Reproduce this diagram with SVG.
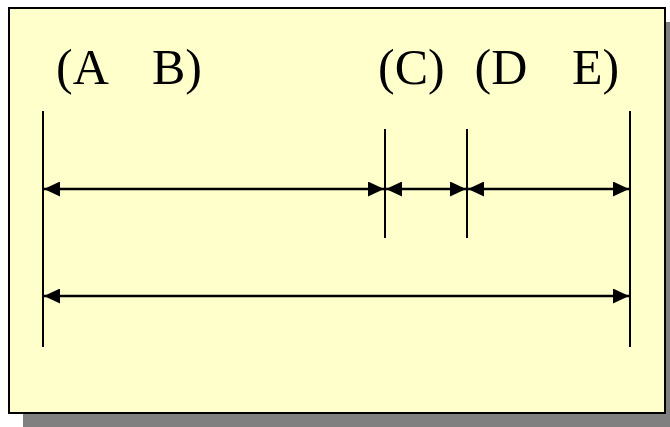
<svg xmlns="http://www.w3.org/2000/svg" width="670" height="427" viewBox="0 0 670 427">
<style>
.lbl{font-family:"Liberation Serif","Times New Roman",serif;font-size:50px;fill:#000}
.tick{stroke:#000;stroke-width:2}
.dim{stroke:#000;stroke-width:2.5;fill:none;marker-start:url(#ah);marker-end:url(#ah)}
</style>
<defs>
<marker id="ah" viewBox="0 0 16 15" refX="16" refY="7.5" markerWidth="16" markerHeight="15" markerUnits="userSpaceOnUse" orient="auto-start-reverse">
<path d="M0,0 L16,7.5 L0,15 Z" fill="#000"/>
</marker>
</defs>
<g id="frame">
<rect x="23" y="22" width="656" height="410" fill="#808080"/>
<rect x="9" y="8" width="656" height="405" fill="#FFFFCC" stroke="#000" stroke-width="2"/>
</g>
<g id="labels">
<text class="lbl" y="84"><tspan x="56">(A</tspan><tspan x="152">B)</tspan></text>
<text class="lbl" x="378" y="84">(C)</text>
<text class="lbl" y="84"><tspan x="474.5">(D</tspan><tspan x="572">E)</tspan></text>
</g>
<g id="ticks">
<line class="tick" x1="43" y1="111" x2="43" y2="347"/>
<line class="tick" x1="385" y1="129" x2="385" y2="238"/>
<line class="tick" x1="467" y1="129" x2="467" y2="238"/>
<line class="tick" x1="630" y1="111" x2="630" y2="347"/>
</g>
<g id="connectors">
<line class="dim" x1="44" y1="189" x2="384" y2="189"/>
<line class="dim" x1="386" y1="189" x2="466" y2="189"/>
<line class="dim" x1="468" y1="189" x2="629" y2="189"/>
<line class="dim" x1="44" y1="296" x2="629" y2="296"/>
</g>
</svg>
